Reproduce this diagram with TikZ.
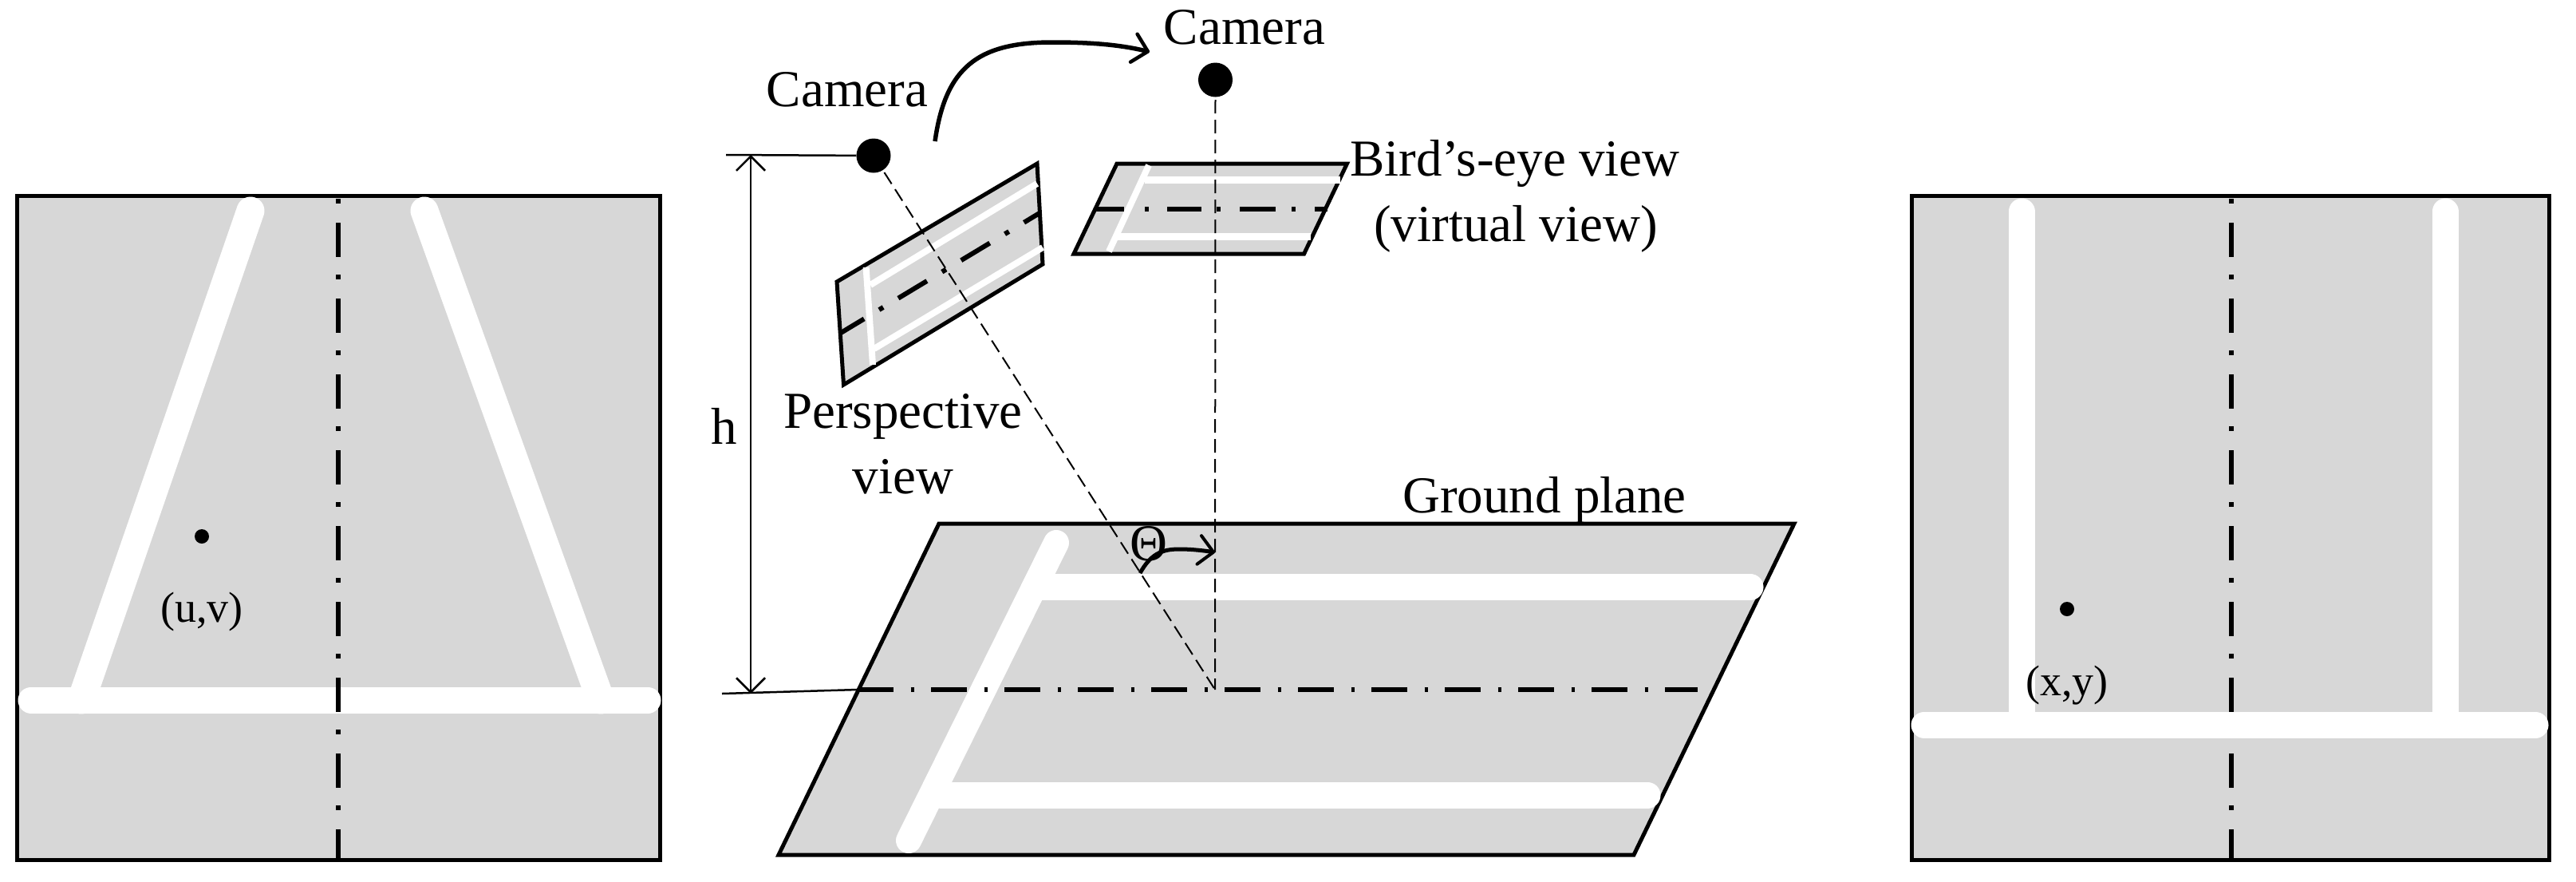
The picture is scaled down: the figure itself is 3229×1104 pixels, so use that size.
\documentclass[tikz,border=0pt]{standalone}
\usepackage{fontspec}
\setmainfont{Liberation Serif}
\usetikzlibrary{arrows.meta}
\definecolor{planegray}{HTML}{D7D7D7}
\tikzset{
  panel/.style={draw=black,line width=5pt,fill=planegray,line join=miter},
  road/.style={draw=white,line width=33pt,line cap=round},
  thinroad/.style={draw=white,line width=8pt},
  axis/.style={draw=black,line width=6pt,dash pattern=on 6pt off 24pt on 43pt off 22pt},
  axisb/.style={draw=black,line width=6pt,dash pattern=on 45pt off 21.5pt on 4pt off 21.5pt},
  sight/.style={draw=black,line width=2pt,dash pattern=on 17pt off 8pt},
  thinline/.style={draw=black,line width=2.5pt},
  barb/.style={-{Straight Barb[length=18pt,width=36pt,line width=#1,round]}},
  dotnode/.style={circle,fill=black,inner sep=0pt,minimum size=18pt},
  camnode/.style={circle,fill=black,inner sep=0pt,minimum size=43pt},
  big/.style={inner sep=0pt,anchor=base,font=\fontsize{65}{65}\selectfont},
  small/.style={inner sep=0pt,font=\fontsize{54}{54}\selectfont},
}
\begin{document}
\begin{tikzpicture}[x=1pt,y=-1pt]
\useasboundingbox (0,0) rectangle (3229,1104);
\fill[white] (0,0) rectangle (3229,1104);

% ---------- left square
\path[panel] (21,245) rectangle (827,1077);
\draw[road,line width=35pt] (314,264) -- (102,877);
\draw[road,line width=35pt] (532,264) -- (753,877);
\draw[road] (39,877) -- (812,877);
\coordinate (lt) at (424,249);
\coordinate (lb) at (424,1077);
\draw[axis] (lt) -- (lb);
\node[dotnode] (uvdot) at (253,672) {};
\node[small] (uv) at (253,766) {(u,v)};

% ---------- right square
\path[panel] (2396,245) rectangle (3195,1077);
\coordinate (rt) at (2797,249);
\coordinate (rb) at (2797,1077);
\draw[axis] (rt) -- (rb);
\draw[road] (2534,265) -- (2534,908);
\draw[road] (3065,265) -- (3065,908);
\draw[road] (2412,908) -- (3178,908);
\node[dotnode] (xydot) at (2591,763) {};
\node[small] (xy) at (2591,859) {(x,y)};

% ---------- ground plane
\path[panel] (1177,656) -- (2249,656) -- (2048,1071) -- (976,1071) -- cycle;
\draw[road,line width=32pt] (1324,680) -- (1139,1053);
\draw[road] (1306,735.5) -- (2194,735.5);
\draw[road] (1180,996) -- (2065,996);
\coordinate (gl) at (1075,864);
\coordinate (gr) at (2128,864);
\coordinate (gc) at (1523,864);
\draw[axisb] (gl) -- (gr);

% ---------- perspective view
\path[panel] (1300,205) -- (1307,331) -- (1057.5,482) -- (1049,353) -- cycle;
\coordinate (pa) at (1054,417);
\coordinate (pb) at (1303,267);
\draw[axis,dash pattern=on 42pt off 22pt on 6pt off 22pt,dash phase=8pt] (pa) -- (pb);
\draw[thinroad] (1300,230) -- (1091,357);
\draw[thinroad] (1307,310) -- (1095.6,437);
\draw[thinroad] (1085.6,335) -- (1094,457);

% ---------- bird's-eye view
\path[panel] (1400,205) -- (1688.5,205) -- (1634.6,318) -- (1346,318) -- cycle;
\draw[thinroad,line width=9pt] (1435,225) -- (1680,225);
\draw[thinroad,line width=9pt] (1398,296) -- (1643,296);
\draw[thinroad] (1440,207) -- (1390,315);
\coordinate (ba) at (1373,262);
\coordinate (bb) at (1664,262);
\draw[axis,dash pattern=on 36pt off 26pt on 5pt off 23pt on 43pt off 19pt on 5pt off 24pt on 45pt off 20pt on 5pt off 24pt on 30pt off 10pt] (ba) -- (bb);

% ---------- cameras
\node[camnode] (camL) at (1095,195) {};
\node[camnode] (camR) at (1523.5,100) {};
\draw[sight] (camL.center) -- (gc);
\draw[sight] (camR.center) -- (gc);

% ---------- height dimension
\coordinate (hT) at (941,194);
\coordinate (hB) at (941,869);
\coordinate (hTs) at (910,194);
\coordinate (hBs) at (905,869);
\draw[thinline] (hTs) -- (camL);
\draw[thinline] (hBs) -- (gl);
\draw[thinline,{Straight Barb[length=18pt,width=36pt,line width=2.5pt]}-{Straight Barb[length=18pt,width=36pt,line width=2.5pt]}] (hT) -- (hB);

% ---------- curved arrows
\coordinate (mvS) at (1172,177);
\coordinate (mvE) at (1441,65);
\draw[draw=black,line width=5.5pt,barb=4.5pt] (mvS) .. controls (1185,85) and (1225,53) .. (1319,53) .. controls (1360,53) and (1400,55) .. (mvE);
\coordinate (thS) at (1429,718);
\coordinate (thE) at (1523,692);
\draw[draw=black,line width=5pt,barb=4pt] (thS) .. controls (1442,695) and (1455,688) .. (1478,688) .. controls (1495,688) and (1510,690) .. (thE);

% ---------- labels
\node[big] (lcam) at (1062,133) {Camera};
\node[big] (rcam) at (1560,55) {Camera};
\node[big] (bird1) at (1899,220) {Bird’s-eye view};
\node[big] (bird2) at (1900,302) {(virtual view)};
\node[big] (persp1) at (1132,536) {Perspective};
\node[big] (persp2) at (1132,618) {view};
\node[big] (ground) at (1936,642) {Ground plane};
\node[big] (hlabel) at (908,556) {h};
\node[big] (theta) at (1440,702) {Θ};
\end{tikzpicture}
\end{document}
